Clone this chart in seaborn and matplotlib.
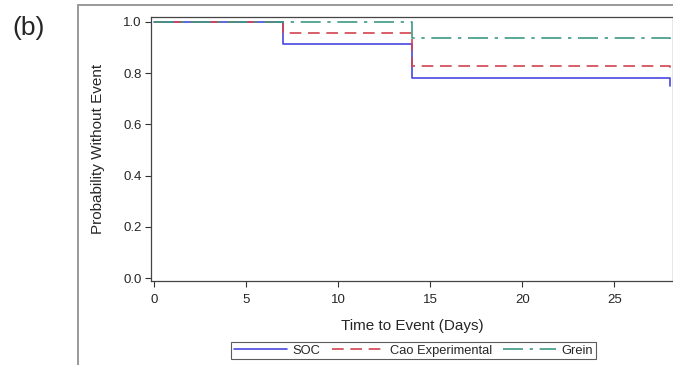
import seaborn as sns
import pandas as pd
import numpy as np
from matplotlib import pyplot as plt
from matplotlib.patches import Rectangle

# survival step curves
groups = ['SOC', 'Cao Experimental', 'Grein']
days = [0, 7, 14, 28]
soc = [1.0, 0.913, 0.782, 0.748]
cao = [1.0, 0.955, 0.827, 0.815]
grein = [1.0, 1.0, 0.936, 0.932]
xticks = [0, 5, 10, 15, 20, 25]
yticks = [0.0, 0.2, 0.4, 0.6, 0.8, 1.0]

df = pd.DataFrame({
    'day': days * 3,
    'surv': soc + cao + grein,
    'group': [g for g in groups for _ in days],
})

sns.set_style('white')
plt.rcParams['font.family'] = ['Liberation Sans', 'DejaVu Sans']

fig = plt.figure(figsize=(6.73, 3.65), dpi=100)
# outer grey frame of the panel
fig.patches.append(Rectangle((78 / 673, -0.05), 1.0, 1 - 5 / 365 + 0.05,
                             transform=fig.transFigure, fill=False,
                             edgecolor='#999999', linewidth=1.4))
ax = fig.add_axes([151 / 673, 1 - 280.7 / 365, 1 - 151 / 673, (280.7 - 16.7) / 365])

pal = {'SOC': '#4848e0', 'Cao Experimental': '#d2434f', 'Grein': '#3d9a86'}
dash = {'SOC': '', 'Cao Experimental': (7, 4), 'Grein': (12, 4, 2, 4)}
sns.lineplot(data=df, x='day', y='surv', hue='group', style='group',
             palette=pal, dashes=dash, hue_order=groups, style_order=groups,
             drawstyle='steps-post', estimator=None, linewidth=1.2, ax=ax)

ax.set_xlim(-0.163, 28.19)
ax.set_ylim(-0.0094, 1.0195)
ax.set_xticks(xticks)
ax.set_yticks(yticks)
ax.set_yticklabels(['%.1f' % v for v in yticks])
ax.tick_params(axis='both', which='major', length=4.3, width=0.8, direction='out',
               labelsize=9.5, color='#333333', left=True, bottom=True)
ax.tick_params(axis='x', pad=5.5)
ax.tick_params(axis='y', pad=2.5)
for s in ax.spines.values():
    s.set_color('#444444')
    s.set_linewidth(0.9)
ax.set_xlabel('Time to Event (Days)', fontsize=11, labelpad=9)
ax.set_ylabel('Probability Without Event', fontsize=11, labelpad=13)

handles, labels = ax.get_legend_handles_labels()
leg = ax.legend(handles, labels, loc='center', bbox_to_anchor=(413.5 / 673, 1 - 350.5 / 365),
                bbox_transform=fig.transFigure, ncol=3, fontsize=9.3, frameon=True,
                fancybox=False, edgecolor='#333333', handlelength=4.1,
                handletextpad=0.4, columnspacing=0.9, borderpad=0.2)
leg.get_frame().set_linewidth(0.8)

fig.text(12 / 673, 1 - 28 / 365, '(b)', fontsize=19, va='center', ha='left')

fig.savefig('out.png', dpi=100)
